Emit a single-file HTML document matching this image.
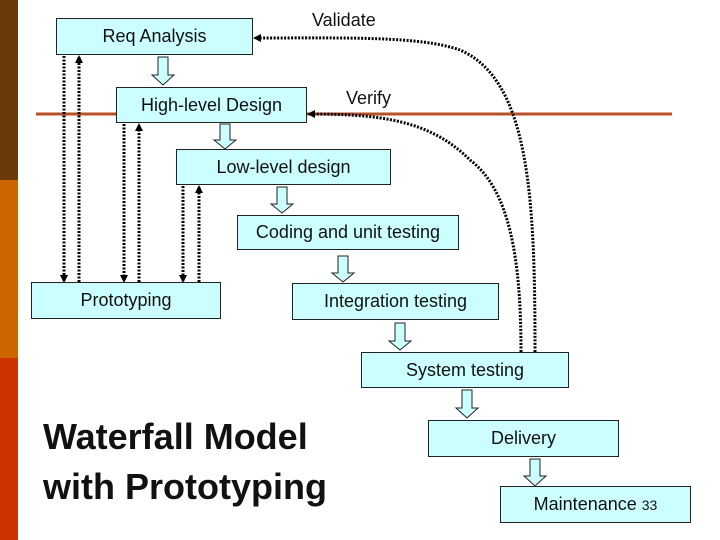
<!DOCTYPE html>
<html><head><style>
body{margin:0;width:720px;height:540px;overflow:hidden;background:#fff;font-family:"Liberation Sans",sans-serif;position:relative}
.b{position:absolute;background:#ccffff;border:1px solid #222;box-sizing:border-box;text-align:center;font-size:18px;color:#111}
.t{position:absolute;font-size:18px;color:#111}
</style></head><body>
<div style="position:absolute;left:0;top:0;width:18px;height:180px;background:#6b3a0a"></div>
<div style="position:absolute;left:0;top:180px;width:18px;height:178px;background:#cc6600"></div>
<div style="position:absolute;left:0;top:358px;width:18px;height:182px;background:#cc3300"></div>
<svg width="720" height="540" style="position:absolute;left:0;top:0">
<defs><marker id="a" markerUnits="userSpaceOnUse" markerWidth="8" markerHeight="8" refX="6" refY="4" orient="auto"><path d="M0,0L8,4L0,8z" fill="#000"/></marker></defs>
<line x1="36" y1="114" x2="672" y2="114" stroke="#b8502a" stroke-width="3"/>
<g stroke="#000" stroke-width="3" stroke-dasharray="2,1.5" fill="none">
<line x1="64" y1="56" x2="64" y2="281" marker-end="url(#a)"/>
<line x1="79" y1="282" x2="79" y2="57" marker-end="url(#a)"/>
<line x1="124" y1="124" x2="124" y2="281" marker-end="url(#a)"/>
<line x1="139" y1="282" x2="139" y2="125" marker-end="url(#a)"/>
<line x1="183" y1="186" x2="183" y2="281" marker-end="url(#a)"/>
<line x1="199" y1="282" x2="199" y2="187" marker-end="url(#a)"/>
<path d="M535,352 C535,200 530,80 460,50 C420,36 350,38 255,38" marker-end="url(#a)"/>
<path d="M521,352 C521,260 510,190 470,160 C430,120 380,114 309,114" marker-end="url(#a)"/>
</g>
<g fill="#ccffff" stroke="#222" stroke-width="1">
<path d="M158,57h10v18h6l-11,10l-11,-10h6z"/>
<path d="M220,124h10v16h6l-11,9l-11,-9h6z"/>
<path d="M277,187h10v17h6l-11,9l-11,-9h6z"/>
<path d="M338,256h10v17h6l-11,9l-11,-9h6z"/>
<path d="M395,323h10v18h6l-11,9l-11,-9h6z"/>
<path d="M462,390h10v18h6l-11,10l-11,-10h6z"/>
<path d="M530,459h10v17h6l-11,10l-11,-10h6z"/>
</g>
</svg>
<div class="b" style="left:56px;top:18px;width:197px;height:37px;line-height:35px">Req Analysis</div>
<div class="b" style="left:116px;top:87px;width:191px;height:36px;line-height:34px">High-level Design</div>
<div class="b" style="left:176px;top:149px;width:215px;height:36px;line-height:34px">Low-level design</div>
<div class="b" style="left:237px;top:215px;width:222px;height:35px;line-height:33px">Coding and unit testing</div>
<div class="b" style="left:31px;top:282px;width:190px;height:37px;line-height:34px">Prototyping</div>
<div class="b" style="left:292px;top:283px;width:207px;height:37px;line-height:35px">Integration testing</div>
<div class="b" style="left:361px;top:352px;width:208px;height:36px;line-height:34px">System testing</div>
<div class="b" style="left:428px;top:420px;width:191px;height:37px;line-height:35px">Delivery</div>
<div class="b" style="left:500px;top:486px;width:191px;height:37px;line-height:35px">Maintenance <span style="font-size:14px">33</span></div>
<div class="t" style="left:312px;top:10px">Validate</div>
<div class="t" style="left:346px;top:88px">Verify</div>
<div style="position:absolute;left:43px;top:412px;font-size:36px;font-weight:bold;line-height:50px;color:#111">Waterfall Model<br>with Prototyping</div>
</body></html>
